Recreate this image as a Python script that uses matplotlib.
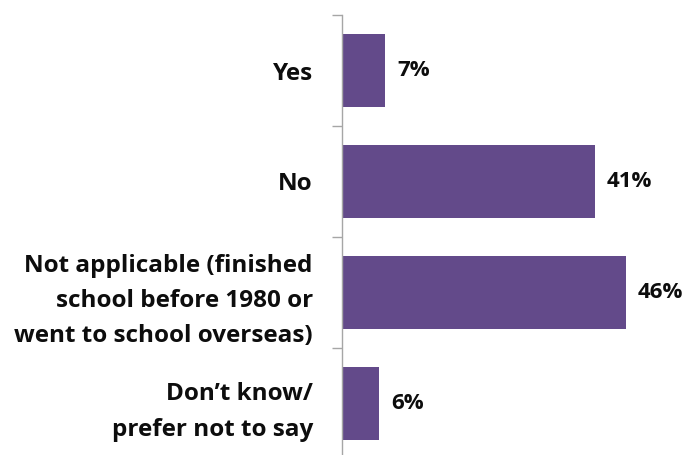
import matplotlib.pyplot as plt
import numpy as np

categories = ["Yes", "No",
              "Not applicable (finished\nschool before 1980 or\nwent to school overseas)",
              "Don\u2019t know/\nprefer not to say"]
values = [7, 41, 46, 6]
value_labels = ["7%", "41%", "46%", "6%"]

bar_color = "#634a8a"
axis_color = "#a6a6a6"
text_color = "#0d0d0d"

plt.rcParams['font.family'] = ['Open Sans', 'DejaVu Sans']

fig = plt.figure(figsize=(6.91, 4.55), dpi=100)
ax = fig.add_axes([342 / 691, 1 - 459 / 455, 50 * 6.18 / 691, 444 / 455])

y = np.arange(len(categories))
ax.barh(y, values, height=0.65, color=bar_color)
ax.set_xlim(0, 50)
ax.set_ylim(len(categories) - 0.5, -0.5)

for yi, v, lab in zip(y, values, value_labels):
    ax.text(v + 1.9, yi, lab, va='center', ha='left', fontsize=16,
            fontweight='bold', color=text_color)

# category labels on minor ticks, separator ticks on major
ax.set_yticks(np.arange(len(categories) + 1) - 0.5)
ax.set_yticklabels([])
ax.tick_params(axis='y', which='major', length=7, width=1, color=axis_color)
ax.set_yticks(y, minor=True)
ax.set_yticklabels(categories, minor=True, fontsize=17.5, fontweight='bold',
                   color=text_color, ha='right', linespacing=1.62)
ax.tick_params(axis='y', which='minor', length=0, pad=21)

ax.set_xticks([])
for s in ['top', 'right', 'bottom']:
    ax.spines[s].set_visible(False)
ax.spines['left'].set_color(axis_color)
ax.spines['left'].set_linewidth(1)

fig.savefig("out.png", dpi=100)
